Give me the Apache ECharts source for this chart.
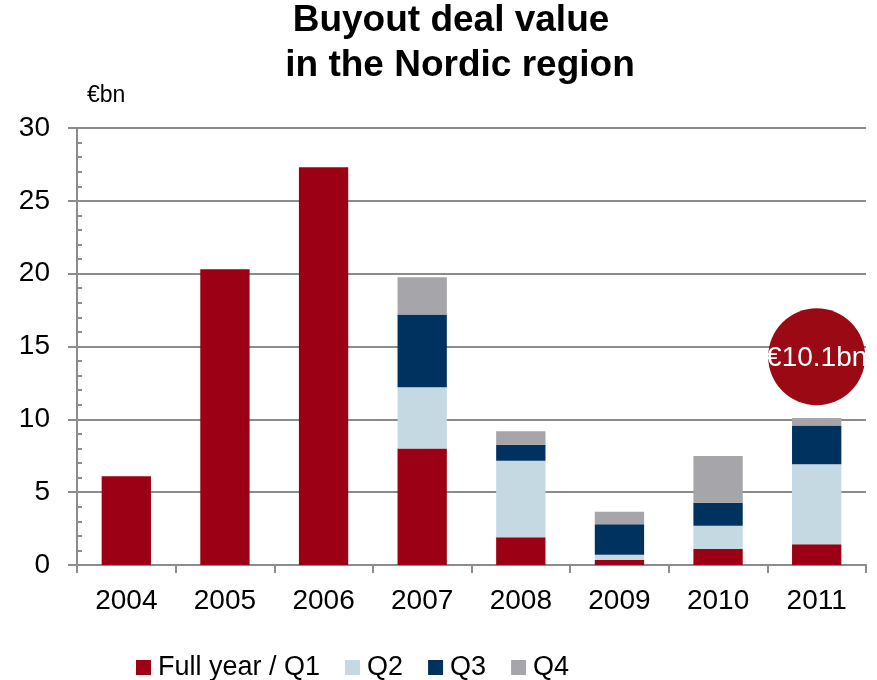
<!DOCTYPE html>
<html><head><meta charset="utf-8">
<script src="https://cdn.jsdelivr.net/npm/echarts@6/dist/echarts.min.js"></script>
<style>html,body{margin:0;padding:0;background:#fff}#c{width:877px;height:680px}</style>
</head><body><div id="c"></div>
<script>
const years = ['2004','2005','2006','2007','2008','2009','2010','2011'];
const q1 = [6.1, 20.3, 27.3, 8.0, 1.9, 0.35, 1.1, 1.42];
const q2 = [null, null, null, 4.2, 5.25, 0.35, 1.6, 5.5];
const q3 = [null, null, null, 5.0, 1.1, 2.1, 1.58, 2.65];
const q4 = [null, null, null, 2.55, 0.93, 0.85, 3.2, 0.53];
const seriesNames = ['Full year / Q1', 'Q2', 'Q3', 'Q4'];
const colors = ['#9b0014', '#c5d9e3', '#00325f', '#a5a5aa'];
const yTicks = [0, 5, 10, 15, 20, 25, 30];
const titleLines = ['Buyout deal value', 'in the Nordic region'];
const calloutText = '€10.1bn';
const calloutY = 14.3;

const chart = echarts.init(document.getElementById('c'));
const font = 'Liberation Sans, Arial, sans-serif';
const data = [q1, q2, q3, q4];
const series = seriesNames.map((n, i) => ({
  name: n, type: 'bar', stack: 'total', data: data[i], barWidth: '50%',
  itemStyle: { color: colors[i] },
  emphasis: { disabled: true }
}));
series[3].markPoint = {
  symbol: 'circle', symbolSize: 97, silent: true,
  itemStyle: { color: '#9b0a14' },
  label: { show: true, formatter: calloutText, color: '#fff', fontSize: 28, fontFamily: font, offset: [0, 2] },
  data: [{ coord: ['2011', calloutY] }]
};
const tStyle = { fontSize: 37, fontWeight: 'bold', fontFamily: font, color: '#000' };
chart.setOption({
  animation: false,
  color: colors,
  title: [
    { text: titleLines[0], left: 446, top: -3, textAlign: 'center', textStyle: tStyle },
    { text: titleLines[1], left: 455, top: 42, textAlign: 'center', textStyle: tStyle }
  ],
  graphic: [{ type: 'text', left: 87, top: 84, style: { text: '€bn', font: '23px ' + font, fill: '#000' } }],
  legend: {
    top: 649, left: 131, itemWidth: 15, itemHeight: 15, itemGap: 25,
    icon: 'rect',
    textStyle: { fontSize: 27, fontFamily: font, color: '#000', padding: [0, 0, 0, 2] },
    data: seriesNames
  },
  grid: { left: 77, right: 11, top: 128, bottom: 115 },
  xAxis: {
    type: 'category', data: years,
    axisLine: { lineStyle: { color: '#8c8c8c', width: 2 } },
    axisTick: { show: true, length: 8, lineStyle: { color: '#8c8c8c', width: 2 } },
    axisLabel: { fontSize: 28, fontFamily: font, color: '#000', margin: 22 }
  },
  yAxis: [{
    type: 'value', min: 0, max: 30, interval: 5,
    axisLine: { show: true, lineStyle: { color: '#8c8c8c', width: 2 } },
    axisTick: { show: true, length: 9, lineStyle: { color: '#8c8c8c', width: 2 } },
    splitLine: { lineStyle: { color: '#8c8c8c', width: 2 } },
    axisLabel: { fontSize: 28, fontFamily: font, color: '#000', margin: 27,
      formatter: v => yTicks.includes(v) ? String(v) : '' }
  }, {
    type: 'value', min: 0, max: 30, interval: 1, position: 'left',
    axisLine: { show: false },
    axisTick: { show: true, inside: true, length: 5, lineStyle: { color: '#8c8c8c', width: 2 } },
    splitLine: { show: false }, axisLabel: { show: false }
  }],
  series: series
});
</script></body></html>
